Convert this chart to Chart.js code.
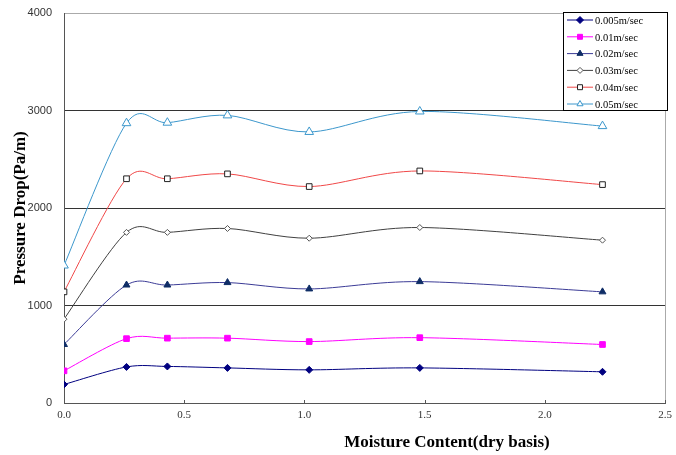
<!DOCTYPE html>
<html><head><meta charset="utf-8">
<script src="https://cdn.jsdelivr.net/npm/chart.js@4/dist/chart.umd.min.js"></script>
<style>html,body{margin:0;padding:0;background:#fff}#wrap{width:676px;height:455px}</style>
</head><body><div id="wrap"><canvas id="c" width="676" height="455"></canvas></div>
<script>
const moisture = [0, 0.26, 0.43, 0.68, 1.02, 1.48, 2.24];
const seriesLabels = ['0.005m/sec','0.01m/sec','0.02m/sec','0.03m/sec','0.04m/sec','0.05m/sec'];
const v005 = [190, 370, 375, 360, 340, 360, 320];
const v01  = [330, 660, 665, 665, 630, 670, 600];
const v02  = [600, 1210, 1210, 1235, 1170, 1245, 1140];
const v03  = [860, 1750, 1750, 1790, 1690, 1800, 1670];
const v04  = [1140, 2300, 2300, 2350, 2220, 2380, 2240];
const v05  = [1410, 2870, 2875, 2950, 2780, 2990, 2840];
const yTicks = [0, 1000, 2000, 3000, 4000];
const xTicks = [0, 0.5, 1.0, 1.5, 2.0, 2.5];
const xTitle = 'Moisture Content(dry basis)';
const yTitle = 'Pressure Drop(Pa/m)';

const styles = [
  {line:'#000080', fill:'#000080', stroke:'#000080', ps:'rectRot', r:3.5},
  {line:'#FF00FF', fill:'#FF00FF', stroke:'#FF00FF', ps:'rect', r:4},
  {line:'#3B3B96', fill:'#0F2D66', stroke:'#0F2D66', ps:'triangle', r:4},
  {line:'#404040', fill:'#ffffff', stroke:'#555555', ps:'rectRot', r:3},
  {line:'#F04848', fill:'#ffffff', stroke:'#222222', ps:'rect', r:4},
  {line:'#3C97CC', fill:'#ffffff', stroke:'#3C97CC', ps:'triangle', r:5}
];
const vals = [v005, v01, v02, v03, v04, v05];
const datasets = vals.map((v,i)=>({
  label: seriesLabels[i],
  data: moisture.map((x,j)=>({x:x, y:v[j]})),
  borderColor: styles[i].line,
  borderWidth: 1,
  pointStyle: styles[i].ps,
  pointRadius: styles[i].r,
  pointBackgroundColor: styles[i].fill,
  pointBorderColor: styles[i].stroke,
  pointBorderWidth: 1,
  tension: 0.4,
  fill: false
}));

// Excel-like smoothing (uniform Catmull-Rom control points)
const smoothPlugin = {
  id:'smooth',
  beforeDatasetDraw(chart, args){
    const meta = args.meta;
    const line = meta.dataset;
    if (!line) return;
    try { line.updateControlPoints(chart.chartArea, 'x'); } catch(e) {}
    const pts = meta.data;
    const n = pts.length;
    for (let i=0;i<n;i++){
      const p = pts[i];
      const prev = pts[Math.max(0,i-1)], next = pts[Math.min(n-1,i+1)];
      const dx = (next.x - prev.x)/6.5, dy = (next.y - prev.y)/6.5;
      p.cp1x = p.x - dx; p.cp1y = p.y - dy;
      p.cp2x = p.x + dx; p.cp2y = p.y + dy;
    }
    line._path = undefined;
  }
};

const framePlugin = {
  id:'frame',
  afterDraw(chart){
    const ctx = chart.ctx, a = chart.chartArea, xs = chart.scales.x;
    ctx.save();
    ctx.strokeStyle = '#555'; ctx.lineWidth = 1;
    xTicks.forEach(t=>{
      const px = Math.round(xs.getPixelForValue(t))+0.5;
      ctx.beginPath(); ctx.moveTo(px, a.bottom); ctx.lineTo(px, a.bottom-3); ctx.stroke();
    });
    ctx.fillStyle = '#000';
    ctx.font = 'bold 17px "Liberation Serif", serif';
    ctx.textAlign = 'center'; ctx.textBaseline = 'middle';
    ctx.fillText(xTitle, 447, 443);
    const lx = 563, ly = 12, lw = 104, lh = 98;
    ctx.fillStyle = '#fff'; ctx.fillRect(lx, ly, lw, lh);
    ctx.strokeStyle = '#000'; ctx.strokeRect(lx+0.5, ly+0.5, lw, lh);
    ctx.font = '10.5px "Liberation Serif", serif';
    ctx.textAlign = 'left';
    chart.data.datasets.forEach((d,i)=>{
      const y = ly + 8 + i*16.8;
      ctx.strokeStyle = d.borderColor; ctx.lineWidth = 1;
      ctx.beginPath(); ctx.moveTo(lx+4, y); ctx.lineTo(lx+30, y); ctx.stroke();
      ctx.fillStyle = d.pointBackgroundColor; ctx.strokeStyle = d.pointBorderColor;
      Chart.helpers.drawPoint(ctx, {pointStyle:d.pointStyle, radius:Math.min(d.pointRadius,3.5), rotation:0, borderWidth:1}, lx+17, y);
      ctx.fillStyle = '#000';
      ctx.fillText(d.label, lx+32, y+1);
    });
    ctx.restore();
  }
};

new Chart(document.getElementById('c'), {
  type:'line',
  data:{datasets},
  options:{
    responsive:false, animation:false,
    layout:{padding:{top:13, right:11, left:0, bottom:0}},
    plugins:{legend:{display:false}, tooltip:{enabled:false}},
    scales:{
      x:{type:'linear', min:0, max:2.5,
        afterBuildTicks(s){ s.ticks = xTicks.map(v=>({value:v})); },
        afterFit(s){ s.height = 52; s.paddingLeft = 0; s.paddingRight = 0; },
        ticks:{callback:v=>Number(v).toFixed(1), font:{family:'"Liberation Serif", serif', size:11}, color:'#333', padding:6, maxRotation:0},
        grid:{drawTicks:false, color:c=> c.index===xTicks.length-1 ? '#aaa' : 'rgba(0,0,0,0)'},
        border:{color:'#555', width:1}
      },
      y:{type:'linear', min:0, max:4000,
        afterBuildTicks(s){ s.ticks = yTicks.map(v=>({value:v})); },
        afterFit(s){ s.width = 64; s.paddingTop = 0; s.paddingBottom = 0; },
        ticks:{callback:v=>String(v), font:{family:'"Liberation Sans", sans-serif', size:11}, color:'#333', padding:12},
        grid:{drawTicks:false, color:c=> c.tick && c.tick.value===4000 ? '#aaa' : (c.tick && c.tick.value===0 ? 'rgba(0,0,0,0)' : '#333')},
        border:{color:'#555', width:1},
        title:{display:true, text:yTitle, font:{family:'"Liberation Serif", serif', size:17, weight:'bold'}, color:'#000', padding:{top:10,bottom:0}}
      }
    }
  },
  plugins:[smoothPlugin, framePlugin]
});
</script></body></html>
